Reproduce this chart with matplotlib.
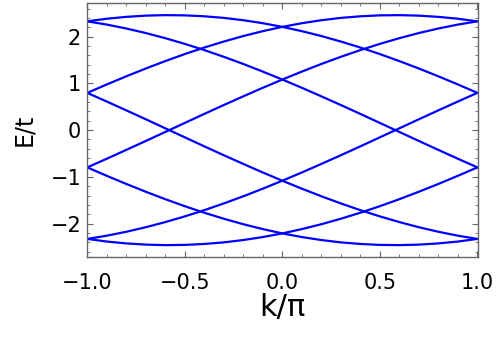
import numpy as np
import matplotlib
matplotlib.use("Agg")
import matplotlib.pyplot as plt
from matplotlib.ticker import MultipleLocator, FuncFormatter

# Momentum grid (in units of pi)
k = [-1.0, -0.9, -0.8, -0.7, -0.6, -0.5, -0.4, -0.3, -0.2, -0.1, 0.0,
     0.1, 0.2, 0.3, 0.4, 0.5, 0.6, 0.7, 0.8, 0.9, 1.0]

# Energy branches E/t along k; each branch also appears mirrored in k
band_1 = [2.327, 2.383, 2.423, 2.449, 2.460, 2.455, 2.435, 2.401, 2.351, 2.287, 2.209,
          2.117, 2.013, 1.895, 1.767, 1.627, 1.477, 1.318, 1.151, 0.977, 0.797]
band_2 = [0.797, 0.612, 0.423, 0.232, 0.039, -0.154, -0.347, -0.537, -0.723, -0.906, -1.082,
          -1.252, -1.415, -1.568, -1.712, -1.845, -1.967, -2.077, -2.174, -2.258, -2.327]
band_3 = [-2.327, -2.383, -2.423, -2.449, -2.460, -2.455, -2.435, -2.401, -2.351, -2.287, -2.209,
          -2.117, -2.013, -1.895, -1.767, -1.627, -1.477, -1.318, -1.151, -0.977, -0.797]
band_4 = [-0.797, -0.612, -0.423, -0.232, -0.039, 0.154, 0.347, 0.537, 0.723, 0.906, 1.082,
          1.252, 1.415, 1.568, 1.712, 1.845, 1.967, 2.077, 2.174, 2.258, 2.327]

bands = [band_1, band_2, band_3, band_4]

fig = plt.figure(figsize=(4.97, 3.42), dpi=100)
ax = fig.add_axes([0.1744, 0.2477, 0.7873, 0.7436])

kk = np.array(k)
for b in bands:
    ax.plot(kk, b, color="#0000ff", lw=1.6, solid_capstyle="round")
    ax.plot(-kk, b, color="#0000ff", lw=1.6, solid_capstyle="round")

ax.set_xlim(-1.003, 1.003)
ax.set_ylim(-2.72, 2.72)

ax.xaxis.set_major_locator(MultipleLocator(0.5))
ax.xaxis.set_minor_locator(MultipleLocator(0.1))
ax.yaxis.set_major_locator(MultipleLocator(1))
ax.yaxis.set_minor_locator(MultipleLocator(0.2))
ax.xaxis.set_major_formatter(FuncFormatter(lambda v, p: f"{v:.1f}".replace("-", "\u2212")))
ax.yaxis.set_major_formatter(FuncFormatter(lambda v, p: f"{v:.0f}".replace("-", "\u2212")))

frame_col = "#666666"
for s in ax.spines.values():
    s.set_color(frame_col)
    s.set_linewidth(1.0)

ax.tick_params(which="both", direction="in", top=True, right=True,
               color=frame_col, labelsize=15, labelcolor="black")
ax.tick_params(which="major", length=4.0, width=0.8)
ax.tick_params(which="minor", length=2.2, width=0.6)
ax.tick_params(axis="x", pad=11)
ax.tick_params(axis="y", pad=4)

ax.set_xlabel("k/\u03c0", fontsize=22, labelpad=0)
ax.set_ylabel("E/t", fontsize=17, labelpad=10)

fig.savefig("out.png", dpi=100)
